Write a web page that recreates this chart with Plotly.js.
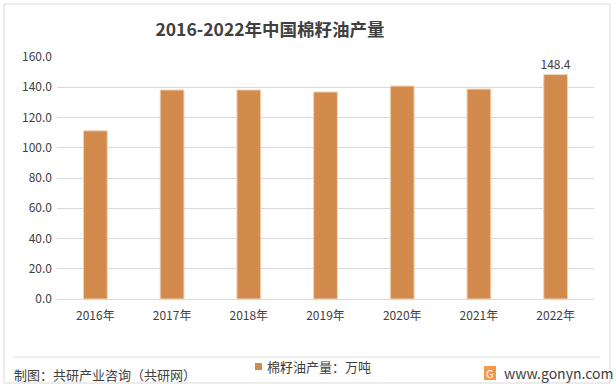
<!DOCTYPE html>
<html>
<head>
<meta charset="utf-8">
<script src="https://cdn.plot.ly/plotly-3.0.1.min.js"></script>
<style>html,body{margin:0;padding:0;background:#fff;}#chart{width:616px;height:392px;}</style>
</head>
<body>
<div id="chart"></div>
<script>
const categories = ['2016年','2017年','2018年','2019年','2020年','2021年','2022年'];
const values = [111.2, 138.2, 138.2, 136.9, 140.8, 138.8, 148.4];
const seriesName = '棉籽油产量：万吨';
const yTicks = [0,20,40,60,80,100,120,140,160];
const yTickLabels = yTicks.map(v => v.toFixed(1));
const labels = values.map((v,i) => i === values.length - 1 ? v.toFixed(1) : '');

const font = '"Noto Sans CJK SC", "Noto Sans", sans-serif';
const barColor = '#D38B4D';

const trace = {
  type: 'bar',
  x: categories,
  y: values,
  name: seriesName,
  text: labels,
  textposition: 'outside',
  constraintext: 'none',
  cliponaxis: false,
  textfont: {family: font, size: 12, color: '#404040'},
  marker: {color: barColor, line: {color: '#F2D3B5', width: 1}},
  hoverinfo: 'none'
};

const px = v => (v - 57) / 537;
const py = v => (299 - v) / 242;

const layout = {
  width: 616, height: 392,
  margin: {l: 57, r: 22, t: 57, b: 93},
  paper_bgcolor: '#ffffff',
  plot_bgcolor: '#ffffff',
  bargap: 0.69,
  showlegend: false,
  title: {
    text: '<b>2016-2022年中国棉籽油产量</b>',
    font: {family: font, size: 17.5, color: '#404040'},
    x: 270/616, xanchor: 'center', y: 1 - 30/392, yanchor: 'middle'
  },
  xaxis: {
    type: 'category',
    tickfont: {family: font, size: 12, color: '#404040'},
    showline: false, ticks: '', showgrid: false, ticklen: 0,
    ticklabelstandoff: 8
  },
  yaxis: {
    range: [0, 160],
    tickvals: yTicks, ticktext: yTickLabels,
    tickfont: {family: font, size: 12, color: '#404040'},
    gridcolor: '#D9D9D9', gridwidth: 1,
    zeroline: true, zerolinecolor: '#D9D9D9', zerolinewidth: 1,
    showline: false, ticks: '', ticklen: 0, ticklabelstandoff: 4
  },
  shapes: [
    {type: 'rect', xref: 'paper', yref: 'paper',
     x0: px(4), x1: px(610), y0: py(383), y1: py(4),
     line: {color: '#D9D9D9', width: 1}, fillcolor: 'rgba(0,0,0,0)', layer: 'below'},
    {type: 'line', xref: 'paper', yref: 'paper',
     x0: px(14), x1: px(600), y0: py(357), y1: py(357),
     line: {color: '#E0E0E0', width: 1}},
    {type: 'rect', xref: 'paper', yref: 'paper',
     x0: px(255), x1: px(262), y0: py(370), y1: py(363),
     line: {width: 0}, fillcolor: barColor},
    {type: 'rect', xref: 'paper', yref: 'paper',
     x0: px(484), x1: px(496), y0: py(380), y1: py(366),
     line: {width: 0}, fillcolor: '#F39A4A'}
  ],
  annotations: [
    {text: seriesName, xref: 'paper', yref: 'paper',
     x: px(265), y: py(366), xanchor: 'left', yanchor: 'middle', showarrow: false,
     font: {family: font, size: 13, color: '#404040'}},
    {text: '制图：共研产业咨询（共研网）', xref: 'paper', yref: 'paper',
     x: px(12), y: py(374), xanchor: 'left', yanchor: 'middle', showarrow: false,
     font: {family: font, size: 13, color: '#404040'}},
    {text: 'G', xref: 'paper', yref: 'paper',
     x: px(490), y: py(373), xanchor: 'center', yanchor: 'middle', showarrow: false,
     font: {family: font, size: 11, color: '#ffffff'}},
    {text: 'www.gonyn.com', xref: 'paper', yref: 'paper',
     x: px(502), y: py(373), xanchor: 'left', yanchor: 'middle', showarrow: false,
     font: {family: font, size: 14, color: '#404040'}}
  ]
};

Plotly.newPlot('chart', [trace], layout, {displayModeBar: false, staticPlot: true});
</script>
</body>
</html>
